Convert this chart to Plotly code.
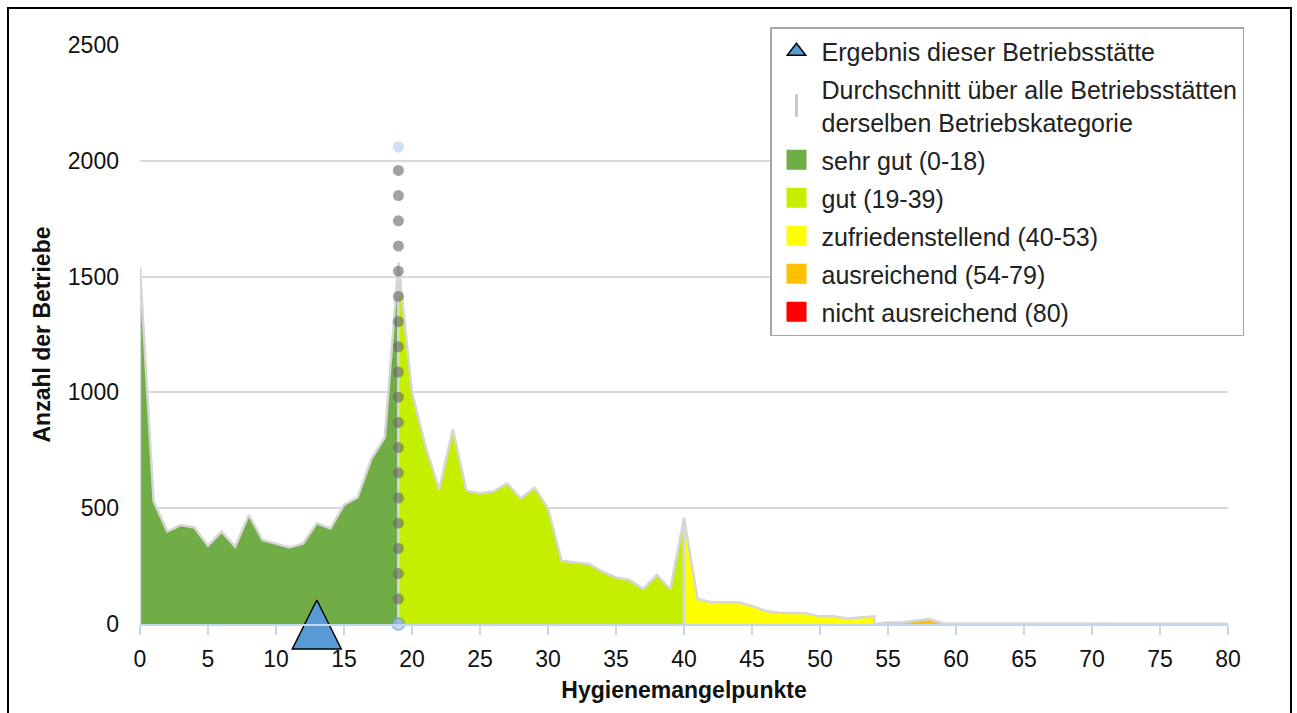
import plotly.graph_objects as go

# ---------------- data ----------------
score_ticks = list(range(0, 81, 5))
count_ticks = [0, 500, 1000, 1500, 2000, 2500]

sehr_gut_x = list(range(0, 20))
sehr_gut_y = [1540, 530, 400, 427, 417, 338, 399, 334, 471, 363,
              348, 331, 348, 435, 413, 514, 547, 711, 806, 1560]

gut_x = list(range(19, 41))
gut_y = [1560, 1000, 766, 581, 841, 576, 564, 573, 607, 542, 589,
         500, 273, 266, 259, 226, 201, 190, 151, 212, 150, 458]

zufr_x = list(range(40, 55))
zufr_y = [458, 108, 94, 94, 94, 78, 56, 49, 49, 46, 33, 33, 24, 29, 33]

ausr_x = list(range(54, 81))
ausr_y = [0, 6, 6, 13, 21, 3, 3, 2, 2, 2, 2, 1, 1, 1, 1, 1, 1, 1,
          1, 1, 1, 1, 1, 1, 1, 1, 1]

nicht_x = [80]
nicht_y = [0]

result_score = 13          # Ergebnis dieser Betriebsstätte
avg_score = 19             # Durchschnitt
avg_line_top = 2060

categories = [
    ("sehr gut (0-18)", sehr_gut_x, sehr_gut_y, "#70ad47"),
    ("gut (19-39)", gut_x, gut_y, "#c4f000"),
    ("zufriedenstellend (40-53)", zufr_x, zufr_y, "#ffff00"),
    ("ausreichend (54-79)", ausr_x, ausr_y, "#ffc000"),
    ("nicht ausreichend (80)", nicht_x, nicht_y, "#ff0000"),
]

FONT = "Liberation Sans, Arial, sans-serif"
OUTLINE = "#d6d6d6"

fig = go.Figure()

# area polygons
for name, xs, ys, col in categories:
    fig.add_trace(go.Scatter(
        x=[xs[0]] + xs + [xs[-1]],
        y=[0] + ys + [0],
        mode="lines", fill="toself", fillcolor=col,
        line=dict(color=OUTLINE, width=2.5),
        showlegend=False, hoverinfo="skip", cliponaxis=False,
    ))

# average line (dotted)
fig.add_trace(go.Scatter(
    x=[avg_score, avg_score], y=[0, avg_line_top],
    mode="lines+markers",
    line=dict(color="rgba(105,105,105,0.62)", width=11, dash="0px,25.2px"),
    marker=dict(size=[12, 10], color=["#a9c9ec", "#b9d3f0"],
                line=dict(color=["#5b9bd5", "#b9d3f0"], width=1.5)),
    showlegend=False, cliponaxis=False, hoverinfo="skip",
))

# result triangle
fig.add_trace(go.Scatter(
    x=[result_score], y=[0], mode="markers",
    marker=dict(symbol="arrow-down", angle=180, standoff=24, size=49,
                color="#5b9bd5", line=dict(color="black", width=1.5)),
    showlegend=False, cliponaxis=False, hoverinfo="skip",
))

# legend entries
fig.add_trace(go.Scatter(
    x=[None], y=[None], mode="markers", name="Ergebnis dieser Betriebsstätte",
    marker=dict(symbol="triangle-up", size=16, color="#5b9bd5",
                line=dict(color="black", width=1.5)),
    legendgroup="a",
))
fig.add_trace(go.Scatter(
    x=[None], y=[None], mode="markers",
    name="Durchschnitt über alle Betriebsstätten<br>derselben Betriebskategorie",
    marker=dict(symbol="line-ns-open", size=16, color="#c8c8c8",
                line=dict(color="#c8c8c8", width=3)),
    legendgroup="b",
))
for i, (name, xs, ys, col) in enumerate(categories):
    fig.add_trace(go.Scatter(
        x=[None], y=[None], mode="markers", name=name,
        marker=dict(symbol="square", size=16, color=col,
                    line=dict(color=col, width=4)),
        legendgroup="c%d" % i,
    ))

L, R, T, B = 140, 69, 45, 89
W, H = 1297, 713
pw, ph = W - L - R, H - T - B

def px_x(p):
    return (p - L) / pw

def px_y(p):
    return (H - B - p) / ph

fig.update_layout(
    width=W, height=H,
    margin=dict(l=L, r=R, t=T, b=B, pad=0),
    paper_bgcolor="white", plot_bgcolor="white",
    font=dict(family=FONT, size=22, color="#111111"),
    xaxis=dict(
        range=[0, 80], tickvals=score_ticks,
        showgrid=False, zeroline=False,
        showline=True, linecolor="#c3d7ee", linewidth=2,
        ticks="outside", ticklen=9, tickwidth=2, tickcolor="#c3d7ee",
        ticklabelstandoff=4,
        tickfont=dict(family=FONT, size=23, color="#111111"),
        title=dict(text="Hygienemangelpunkte", standoff=11,
                   font=dict(family=FONT, size=23, weight="bold", color="#111111")),
    ),
    yaxis=dict(
        range=[0, 2500], tickvals=count_ticks,
        showgrid=True, gridcolor="#d9d9d9", gridwidth=1.5,
        zeroline=False, showline=False, ticks="",
        ticklabelstandoff=20,
        tickfont=dict(family=FONT, size=23, color="#111111"),
        title=dict(text="Anzahl der Betriebe", standoff=10,
                   font=dict(family=FONT, size=23, weight="bold", color="#111111")),
    ),
    legend=dict(
        x=px_x(770), y=px_y(27), xanchor="left", yanchor="top",
        bgcolor="white", bordercolor="#a6a6a6", borderwidth=1.5,
        font=dict(family=FONT, size=25, color="#222222"),
        itemwidth=40, tracegroupgap=2.5, traceorder="grouped",
    ),
    shapes=[dict(type="rect", xref="paper", yref="paper",
                 x0=px_x(8), x1=px_x(1291), y0=px_y(730), y1=px_y(8),
                 line=dict(color="black", width=2), layer="above")],
    showlegend=True,
)

post = """
document.body.style.margin='0';
document.querySelectorAll('path.js-line').forEach(function(p){
  var d = p.style.strokeDasharray || '';
  if(d.indexOf('25.2') >= 0){ p.style.strokeLinecap = 'round'; }
});
"""
fig.write_html("out.html", post_script=post, config={"displayModeBar": False})
